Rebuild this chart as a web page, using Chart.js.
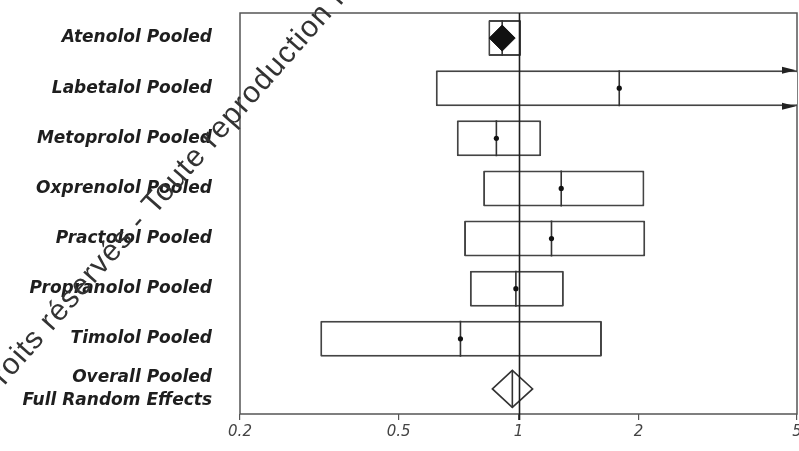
<!DOCTYPE html>
<html>
<head>
<meta charset="utf-8">
<script src="https://cdn.jsdelivr.net/npm/chart.js@4/dist/chart.umd.min.js"></script>
<style>
  html, body { margin: 0; padding: 0; background: #fff; }
  #wrap { width: 799px; height: 451px; }
</style>
</head>
<body>
<div id="wrap"><canvas id="c" width="799" height="451"></canvas></div>
<script>
// Pooled odds ratios per beta-blocker with 95% intervals (log scale)
const studies = [
  'Atenolol Pooled',
  'Labetalol Pooled',
  'Metoprolol Pooled',
  'Oxprenolol Pooled',
  'Practolol Pooled',
  'Propranolol Pooled',
  'Timolol Pooled',
  ['Overall Pooled', 'Full Random Effects']
];
const estimate = [0.91, 1.79, 0.88, 1.28, 1.21, 0.985, 0.715, 0.965];
const lower    = [0.84, 0.62, 0.70, 0.815, 0.73, 0.755, 0.318, 0.86];
const upper    = [1.015, 7.5, 1.14, 2.07, 2.08, 1.30, 1.62, 1.085];
const xTicks   = [0.2, 0.5, 1, 2, 5];

const OVERALL = studies.length - 1;
const rows = studies.map((_, i) => i);

// study intervals as open boxes
const boxData = rows.map(i => (i === OVERALL ? null : [lower[i], upper[i]]));
// vertical estimate line inside every study box
const estLineData = rows.filter(i => i !== OVERALL).map(i => ({ x: estimate[i], y: studies[i] }));
// small dot at each study estimate (not for the filled Atenolol marker or the summary)
const dotData = rows.filter(i => i !== 0 && i !== OVERALL).map(i => ({ x: estimate[i], y: studies[i] }));

const framePlugin = {
  id: 'frame',
  beforeDatasetsDraw(chart) {
    const { ctx, chartArea: a } = chart;
    ctx.save();
    ctx.strokeStyle = '#555';
    ctx.lineWidth = 1.5;
    ctx.strokeRect(a.left, a.top, a.right - a.left, a.bottom - a.top);
    ctx.restore();
  },
  afterDatasetsDraw(chart) {
    const { ctx, chartArea: a, scales } = chart;
    const xs = scales.x, ys = scales.y;
    ctx.save();

    // summary diamond
    const yc = ys.getPixelForValue(OVERALL);
    const h = 18.5;
    const xl = xs.getPixelForValue(lower[OVERALL]);
    const xe = xs.getPixelForValue(estimate[OVERALL]);
    const xh = xs.getPixelForValue(upper[OVERALL]);
    ctx.beginPath();
    ctx.moveTo(xl, yc);
    ctx.lineTo(xe, yc - h);
    ctx.lineTo(xh, yc);
    ctx.lineTo(xe, yc + h);
    ctx.closePath();
    ctx.strokeStyle = '#333';
    ctx.lineWidth = 1.6;
    ctx.stroke();
    ctx.beginPath();
    ctx.moveTo(xe, yc - h);
    ctx.lineTo(xe, yc + h);
    ctx.stroke();

    // line of no effect
    const x1 = Math.round(xs.getPixelForValue(1)) + 0.5;
    ctx.beginPath();
    ctx.moveTo(x1, a.top);
    ctx.lineTo(x1, a.bottom + 6);
    ctx.strokeStyle = '#1e1e1e';
    ctx.lineWidth = 1.6;
    ctx.stroke();

    // arrows where an interval runs past the axis maximum
    const meta = chart.getDatasetMeta(0);
    ctx.fillStyle = '#222';
    rows.forEach(i => {
      if (i === OVERALL || upper[i] <= xs.max) return;
      const bar = meta.data[i];
      const half = bar.height / 2;
      [bar.y - half, bar.y + half].forEach(yy => {
        ctx.beginPath();
        ctx.moveTo(a.right - 1, yy);
        ctx.lineTo(a.right - 15, yy - 3.5);
        ctx.lineTo(a.right - 15, yy + 3.5);
        ctx.closePath();
        ctx.fill();
      });
    });
    ctx.restore();
  },
  afterDraw(chart) {
    const { ctx } = chart;
    ctx.save();
    ctx.translate(-11, 403);
    ctx.rotate(-48.5 * Math.PI / 180);
    ctx.font = '30px "Liberation Sans", Arial, sans-serif';
    if ('letterSpacing' in ctx) ctx.letterSpacing = '1.2px';
    ctx.fillStyle = '#333';
    ctx.textBaseline = 'alphabetic';
    ctx.fillText('Droits réservés - Toute reproduction même partielle interdite', 0, 0);
    ctx.restore();
  }
};

new Chart(document.getElementById('c'), {
  type: 'bar',
  data: {
    labels: studies,
    datasets: [
      {
        type: 'bar',
        indexAxis: 'y',
        data: boxData,
        backgroundColor: '#ffffff',
        borderColor: '#444',
        borderWidth: 2,
        borderSkipped: false,
        borderRadius: 1,
        barPercentage: 0.72,
        categoryPercentage: 1,
        clip: 0,
        order: 3
      },
      {
        type: 'scatter',
        data: estLineData,
        pointStyle: 'line',
        rotation: 90,
        radius: 18,
        borderColor: '#333',
        borderWidth: 1.6,
        order: 2
      },
      {
        type: 'scatter',
        data: dotData,
        pointStyle: 'circle',
        radius: 2.6,
        backgroundColor: '#111',
        borderColor: '#111',
        borderWidth: 0,
        order: 1
      },
      {
        type: 'scatter',
        data: [{ x: estimate[0], y: studies[0] }],
        pointStyle: 'rectRot',
        radius: 13,
        backgroundColor: '#111',
        borderColor: '#111',
        borderWidth: 1,
        order: 0
      }
    ]
  },
  options: {
    responsive: false,
    animation: false,
    devicePixelRatio: 1,
    layout: { autoPadding: false, padding: { top: 13, right: 2, bottom: 0, left: 0 } },
    plugins: { legend: { display: false }, tooltip: { enabled: false } },
    scales: {
      x: {
        type: 'logarithmic',
        min: 0.2,
        max: 5,
        offset: false,
        afterBuildTicks: s => { s.ticks = xTicks.map(v => ({ value: v })); },
        afterFit: s => { s.paddingLeft = 0; s.paddingRight = 0; s.height = 37; },
        grid: { offset: false, drawOnChartArea: false, drawTicks: true, tickLength: 6, color: '#555', lineWidth: 1.2 },
        border: { display: false },
        ticks: {
          autoSkip: false,
          maxRotation: 0,
          padding: 3,
          color: '#444',
          font: { family: 'DejaVu Sans', style: 'italic', size: 15 },
          callback: v => String(v)
        }
      },
      y: {
        type: 'category',
        labels: studies,
        offset: true,
        afterFit: s => { s.width = 240; s.paddingTop = 0; s.paddingBottom = 0; },
        grid: { display: false, offset: true },
        border: { display: false },
        ticks: {
          autoSkip: false,
          padding: 20,
          color: '#1e1e1e',
          font: { family: 'DejaVu Sans', weight: 'bold', style: 'italic', size: 17, lineHeight: 1.35 }
        }
      }
    }
  },
  plugins: [framePlugin]
});
</script>
</body>
</html>
